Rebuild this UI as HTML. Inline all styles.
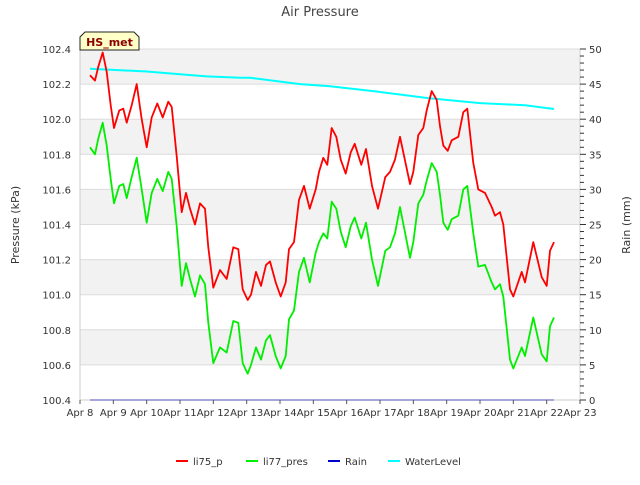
<!DOCTYPE html>
<html><head><meta charset="utf-8"><style>
body{margin:0;background:#fff;font-family:"Liberation Sans","DejaVu Sans",sans-serif}
svg text{font-family:"DejaVu Sans","Liberation Sans",sans-serif}
</style></head><body>
<svg id="chart" width="640" height="480" xmlns="http://www.w3.org/2000/svg">
<rect width="640" height="480" fill="#fff"/>
<text x="320" y="16" text-anchor="middle" font-size="13" fill="#444">Air Pressure</text>
<g id="bands"></g><g id="grid"></g>
<g id="series"></g>
<g id="axes"></g>
<text transform="translate(19,225) rotate(-90)" text-anchor="middle" font-size="11" fill="#333">Pressure (kPa)</text>
<text transform="translate(630,225) rotate(-90)" text-anchor="middle" font-size="11" fill="#333">Rain (mm)</text>
<g>
<path d="M80,50 L80,37 L85,32 L134,32 L139,37 L139,50 Z" fill="#ffffc8" stroke="#222" stroke-width="1"/>
<text x="109.5" y="46" text-anchor="middle" font-size="11" font-weight="bold" fill="#8b0000">HS_met</text>
</g>
<g id="legend"></g>
</svg>
<script>
const days=[0.3,0.45,0.55,0.68,0.8,0.92,1.02,1.18,1.3,1.4,1.55,1.7,1.85,2.0,2.15,2.32,2.48,2.65,2.75,2.9,3.05,3.18,3.3,3.45,3.6,3.75,3.85,4.0,4.2,4.4,4.6,4.75,4.88,5.03,5.13,5.28,5.43,5.58,5.7,5.87,6.02,6.17,6.27,6.42,6.57,6.72,6.89,7.07,7.17,7.3,7.42,7.55,7.69,7.82,7.97,8.12,8.24,8.44,8.58,8.76,8.94,9.16,9.3,9.45,9.6,9.9,10.0,10.15,10.3,10.4,10.55,10.7,10.8,10.9,11.03,11.15,11.35,11.5,11.62,11.8,11.95,12.15,12.35,12.45,12.6,12.7,12.9,13.0,13.25,13.35,13.6,13.85,14.0,14.1,14.22];
const li75=[102.25,102.22,102.30,102.38,102.27,102.08,101.95,102.05,102.06,101.98,102.08,102.2,102.0,101.84,102.01,102.09,102.01,102.1,102.07,101.79,101.47,101.58,101.49,101.4,101.52,101.49,101.27,101.04,101.14,101.09,101.27,101.26,101.03,100.97,101.0,101.13,101.05,101.17,101.19,101.07,100.99,101.07,101.26,101.3,101.54,101.62,101.49,101.6,101.7,101.78,101.74,101.95,101.9,101.77,101.69,101.81,101.86,101.74,101.83,101.62,101.49,101.67,101.7,101.77,101.9,101.63,101.7,101.91,101.95,102.05,102.16,102.11,101.96,101.85,101.82,101.88,101.9,102.04,102.06,101.75,101.6,101.58,101.5,101.45,101.47,101.4,101.03,100.99,101.13,101.07,101.3,101.1,101.05,101.25,101.3];
const li77=[101.84,101.8,101.89,101.98,101.85,101.66,101.52,101.62,101.63,101.55,101.67,101.78,101.6,101.41,101.58,101.66,101.59,101.7,101.66,101.39,101.05,101.18,101.09,100.99,101.11,101.06,100.84,100.61,100.70,100.67,100.85,100.84,100.61,100.55,100.6,100.70,100.63,100.74,100.77,100.65,100.58,100.65,100.86,100.91,101.13,101.21,101.07,101.24,101.3,101.35,101.32,101.53,101.49,101.36,101.27,101.39,101.44,101.32,101.41,101.2,101.05,101.25,101.27,101.35,101.5,101.21,101.3,101.52,101.57,101.65,101.75,101.7,101.57,101.41,101.37,101.43,101.45,101.6,101.62,101.35,101.16,101.17,101.07,101.03,101.06,100.99,100.63,100.58,100.7,100.65,100.87,100.66,100.62,100.82,100.87];
const waterDays=[0.3,2.0,3.0,3.8,4.8,5.1,6.6,7.5,8.96,10.45,12.0,13.35,14.22];
const waterLevel=[47.2,46.8,46.4,46.1,45.9,45.9,45.0,44.7,43.9,43.0,42.3,42.0,41.45];
const rainDays=[0.3,14.22];
const rain=[0,0];
const xTickLabels=["Apr 8","Apr 9","Apr 10","Apr 11","Apr 12","Apr 13","Apr 14","Apr 15","Apr 16","Apr 17","Apr 18","Apr 19","Apr 20","Apr 21","Apr 22","Apr 23"];
const yTicks=[100.4,100.6,100.8,101.0,101.2,101.4,101.6,101.8,102.0,102.2,102.4];
const y2Ticks=[0,5,10,15,20,25,30,35,40,45,50];

const L=80,R=580,T=49,B=400;
const x=d=>L+d*(R-L)/15;
const y=p=>B-(p-100.4)*(B-T)/2.0;
const y2=v=>B-v*(B-T)/50;
const NS="http://www.w3.org/2000/svg";
function mk(tag,parent,attrs){const e=document.createElementNS(NS,tag);for(const k in attrs)e.setAttribute(k,attrs[k]);parent.appendChild(e);return e;}
const bands=document.getElementById('bands'),grid=document.getElementById('grid'),axes=document.getElementById('axes'),series=document.getElementById('series'),legend=document.getElementById('legend');
mk('rect',bands,{x:L,y:T,width:R-L,height:B-T,fill:'#fff'});
for(let i=0;i<yTicks.length-1;i++){if(i%2===1){const b=mk('rect',bands,{x:L,y:y(yTicks[i+1]),width:R-L,height:y(yTicks[i])-y(yTicks[i+1]),fill:'#f2f2f2'});

}}
yTicks.forEach(t=>{const g=mk('line',grid,{x1:L,x2:R,y1:y(t),y2:y(t),stroke:'#dcdcdc','stroke-width':1});


const tx=mk('text',axes,{x:L-9,y:y(t)+4,'text-anchor':'end','font-size':10,fill:'#333'});tx.textContent=t.toFixed(1);

});
mk('line',axes,{x1:L,x2:L,y1:T,y2:B,stroke:'#ccc'});
mk('line',axes,{x1:R,x2:R,y1:T,y2:B,stroke:'#ccc'});
mk('line',axes,{x1:L,x2:R,y1:B,y2:B,stroke:'#ccc'});
xTickLabels.forEach((s,i)=>{mk('line',axes,{x1:x(i),x2:x(i),y1:B,y2:B+4,stroke:'#555'});
const tx=mk('text',axes,{x:x(i),y:B+16,'text-anchor':'middle','font-size':10,fill:'#333'});tx.textContent=s;

});
for(let v=0;v<=50;v++){const major=v%5===0;mk('line',axes,{x1:R,x2:R+(major?6:4),y1:y2(v),y2:y2(v),stroke:'#333'});}
y2Ticks.forEach(v=>{const tx=mk('text',axes,{x:R+9,y:y2(v)+4,'font-size':10,fill:'#333'});tx.textContent=v;

});
function line(xs,ys,sx,sy,color,name,w){const d=xs.map((v,i)=>(i?'L':'M')+x(v).toFixed(1)+','+sy(ys[i]).toFixed(1)).join(' ');
const p=mk('path',series,{d:d,fill:'none',stroke:color,'stroke-width':w,'stroke-linejoin':'round'});

}
line(waterDays,waterLevel,x,y2,'#00ffff','waterlevel-line',2);
line(days,li75,x,y,'#ff0000','li75-p-line',1.8);
line(days,li77,x,y,'#00ee00','li77-pres-line',1.8);
line(rainDays,rain,x,y2,'#0000cc','rain-line',1.5);
const items=[['li75_p','#ff0000',176],['li77_pres','#00ee00',246],['Rain','#0000cc',328],['WaterLevel','#00ffff',388]];
items.forEach(it=>{const g=mk('g',legend,{});


mk('line',g,{x1:it[2],x2:it[2]+12,y1:461,y2:461,stroke:it[1],'stroke-width':2});
const t=mk('text',g,{x:it[2]+17,y:465,'font-size':10,fill:'#333'});t.textContent=it[0];});
</script>
</body></html>
